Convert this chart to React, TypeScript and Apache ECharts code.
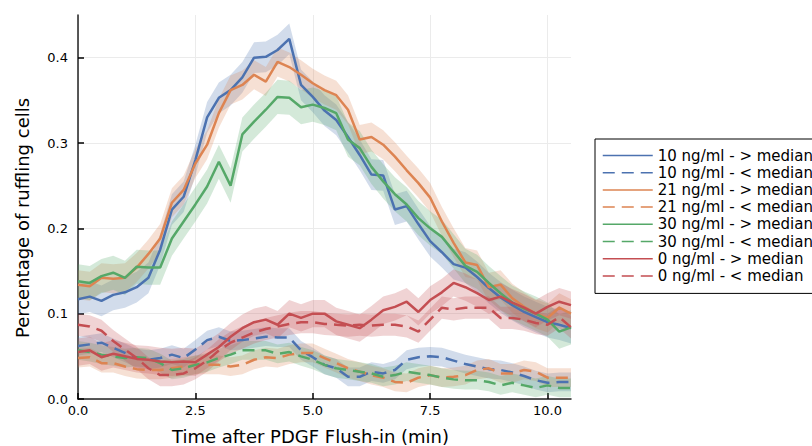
import React, { useEffect, useRef } from "react";
import * as echarts from "echarts";

const times = [0, 0.25, 0.5, 0.75, 1, 1.25, 1.5, 1.75, 2, 2.25, 2.5, 2.75, 3, 3.25, 3.5, 3.75, 4, 4.25, 4.5, 4.75, 5, 5.25, 5.5, 5.75, 6, 6.25, 6.5, 6.75, 7, 7.25, 7.5, 7.75, 8, 8.25, 8.5, 8.75, 9, 9.25, 9.5, 9.75, 10, 10.25, 10.5];

const blueAbove = [0.117, 0.120, 0.115, 0.122, 0.125, 0.131, 0.142, 0.175, 0.222, 0.237, 0.280, 0.330, 0.353, 0.362, 0.377, 0.400, 0.401, 0.409, 0.422, 0.368, 0.354, 0.338, 0.327, 0.307, 0.286, 0.263, 0.262, 0.222, 0.226, 0.205, 0.185, 0.172, 0.158, 0.154, 0.143, 0.130, 0.119, 0.110, 0.102, 0.096, 0.090, 0.087, 0.083];
const blueBelow = [0.062, 0.064, 0.066, 0.060, 0.054, 0.048, 0.046, 0.048, 0.052, 0.048, 0.058, 0.069, 0.073, 0.068, 0.069, 0.071, 0.073, 0.072, 0.072, 0.057, 0.049, 0.040, 0.036, 0.026, 0.026, 0.032, 0.030, 0.034, 0.046, 0.049, 0.050, 0.049, 0.045, 0.041, 0.038, 0.035, 0.034, 0.031, 0.027, 0.022, 0.019, 0.020, 0.020];
const orangeAbove = [0.134, 0.132, 0.142, 0.141, 0.142, 0.154, 0.170, 0.188, 0.230, 0.245, 0.276, 0.298, 0.335, 0.362, 0.368, 0.380, 0.372, 0.395, 0.389, 0.380, 0.370, 0.362, 0.356, 0.339, 0.304, 0.307, 0.298, 0.284, 0.268, 0.253, 0.236, 0.208, 0.183, 0.160, 0.157, 0.131, 0.134, 0.118, 0.108, 0.100, 0.095, 0.107, 0.100];
const orangeBelow = [0.048, 0.049, 0.042, 0.042, 0.038, 0.035, 0.034, 0.034, 0.036, 0.038, 0.040, 0.040, 0.040, 0.038, 0.040, 0.046, 0.049, 0.048, 0.052, 0.054, 0.054, 0.048, 0.042, 0.036, 0.032, 0.028, 0.025, 0.020, 0.019, 0.025, 0.028, 0.025, 0.026, 0.028, 0.034, 0.036, 0.030, 0.030, 0.034, 0.032, 0.025, 0.025, 0.025];
const greenAbove = [0.138, 0.136, 0.144, 0.148, 0.142, 0.155, 0.154, 0.154, 0.188, 0.208, 0.228, 0.249, 0.278, 0.250, 0.310, 0.325, 0.339, 0.354, 0.353, 0.342, 0.345, 0.341, 0.335, 0.304, 0.294, 0.272, 0.255, 0.240, 0.228, 0.212, 0.200, 0.190, 0.173, 0.156, 0.149, 0.136, 0.124, 0.113, 0.106, 0.100, 0.093, 0.079, 0.084];
const greenBelow = [0.057, 0.055, 0.052, 0.050, 0.048, 0.049, 0.048, 0.042, 0.034, 0.036, 0.040, 0.043, 0.048, 0.052, 0.057, 0.057, 0.057, 0.053, 0.055, 0.050, 0.046, 0.040, 0.036, 0.034, 0.032, 0.030, 0.026, 0.028, 0.032, 0.030, 0.028, 0.025, 0.023, 0.022, 0.022, 0.020, 0.016, 0.019, 0.016, 0.013, 0.016, 0.013, 0.013];
const redAbove = [0.055, 0.057, 0.049, 0.053, 0.050, 0.047, 0.046, 0.044, 0.043, 0.044, 0.043, 0.052, 0.061, 0.073, 0.083, 0.090, 0.093, 0.087, 0.100, 0.095, 0.100, 0.100, 0.091, 0.087, 0.083, 0.093, 0.104, 0.108, 0.114, 0.102, 0.116, 0.125, 0.136, 0.131, 0.124, 0.116, 0.120, 0.113, 0.107, 0.100, 0.108, 0.114, 0.110];
const redBelow = [0.087, 0.085, 0.080, 0.068, 0.058, 0.048, 0.036, 0.028, 0.028, 0.030, 0.036, 0.045, 0.057, 0.066, 0.072, 0.078, 0.082, 0.085, 0.088, 0.090, 0.090, 0.088, 0.087, 0.086, 0.087, 0.086, 0.087, 0.087, 0.085, 0.079, 0.093, 0.107, 0.105, 0.107, 0.107, 0.107, 0.095, 0.095, 0.093, 0.089, 0.087, 0.096, 0.084];

const seriesNames = [
  "10 ng/ml - > median",
  "10 ng/ml - < median",
  "21 ng/ml - > median",
  "21 ng/ml - < median",
  "30 ng/ml - > median",
  "30 ng/ml - < median",
  "0 ng/ml - > median",
  "0 ng/ml - < median",
];
const seriesValues = [blueAbove, blueBelow, orangeAbove, orangeBelow, greenAbove, greenBelow, redAbove, redBelow];
const seriesColors = ["#4C72B0", "#4C72B0", "#DD8452", "#DD8452", "#55A868", "#55A868", "#C44E52", "#C44E52"];
const seriesDashed = [false, true, false, true, false, true, false, true];
const bandHalfWidths = [0.018, 0.011, 0.017, 0.011, 0.02, 0.011, 0.016, 0.013];

const xTicks = [0, 2.5, 5, 7.5, 10];
const yTicks = [0, 0.1, 0.2, 0.3, 0.4];

const FONT = "DejaVu Sans";

export default function App() {
  const ref = useRef<HTMLDivElement>(null);
  useEffect(() => {
    document.body.style.margin = "0";
    const chart = echarts.init(ref.current!, null, { renderer: "svg" });
    const series: any[] = [];
    seriesNames.forEach((name, i) => {
      const vals = seriesValues[i];
      const hw = bandHalfWidths[i];
      const color = seriesColors[i];
      series.push({
        type: "custom",
        name: name + " band",
        silent: true,
        data: times.map((t, k) => [t, vals[k] - hw, vals[k] + hw]),
        encode: { x: 0, y: [1, 2] },
        renderItem: (params: any, api: any) => {
          if (params.dataIndex !== 0) return null;
          const upper = times.map((t, k) => api.coord([t, vals[k] + hw]));
          const lower = times.map((t, k) => api.coord([t, vals[k] - hw])).reverse();
          return {
            type: "polygon",
            shape: { points: upper.concat(lower) },
            style: { fill: color, opacity: 0.25 },
            silent: true,
          };
        },
      });
      series.push({
        type: "line",
        name,
        data: times.map((t, k) => [t, vals[k]]),
        symbol: "none",
        showSymbol: false,
        itemStyle: { color },
        lineStyle: { color, width: 2.5, type: seriesDashed[i] ? [12, 7] : "solid" },
      });
    });

    chart.setOption({
      animation: false,
      backgroundColor: "#fff",
      grid: { left: 78, right: 241, top: 15, bottom: 47, containLabel: false, outerBoundsMode: "none" },
      legend: {
        data: seriesNames,
        orient: "vertical",
        left: 595,
        top: 139,
        itemWidth: 50,
        itemHeight: 14,
        itemGap: 2.2,
        padding: [9, 10, 10, 7],
        borderColor: "#000",
        borderWidth: 1,
        backgroundColor: "#fff",
        selectedMode: false,
        itemStyle: { opacity: 0 },
        lineStyle: { width: 1.5 },
        textStyle: { fontFamily: FONT, fontSize: 15, color: "#000" },
      },
      xAxis: {
        type: "value",
        min: 0,
        max: 10.5,
        name: "Time after PDGF Flush-in (min)",
        nameLocation: "middle",
        nameGap: 28,
        nameTextStyle: { fontFamily: FONT, fontSize: 18, color: "#000", padding: [0, 28, 0, 0] },
        axisLine: { show: true, onZero: false, lineStyle: { color: "#222", width: 1.5 } },
        axisTick: { show: true, inside: true, length: 6, lineStyle: { color: "#000", width: 1.5 }, customValues: xTicks },
        axisLabel: { customValues: xTicks, formatter: (v: number) => v.toFixed(1), fontFamily: FONT, fontSize: 13, color: "#000", margin: 5 },
        splitLine: { show: true, lineStyle: { color: "#ebebeb", width: 1 } },
      },
      yAxis: {
        type: "value",
        min: 0,
        max: 0.45,
        name: "Percentage of ruffling cells",
        nameLocation: "middle",
        nameGap: 47,
        nameRotate: 90,
        nameTextStyle: { fontFamily: FONT, fontSize: 18, color: "#000", padding: [0, 22, 0, 0] },
        axisLine: { show: true, onZero: false, lineStyle: { color: "#222", width: 1.5 } },
        axisTick: { show: true, inside: true, length: 6, lineStyle: { color: "#000", width: 1.5 }, customValues: yTicks },
        axisLabel: { customValues: yTicks, formatter: (v: number) => v.toFixed(1), fontFamily: FONT, fontSize: 13, color: "#000", margin: 10 },
        splitLine: { show: true, lineStyle: { color: "#ebebeb", width: 1 } },
      },
      series,
    });
    return () => chart.dispose();
  }, []);
  return <div ref={ref} style={{ width: 812, height: 446 }} />;
}
